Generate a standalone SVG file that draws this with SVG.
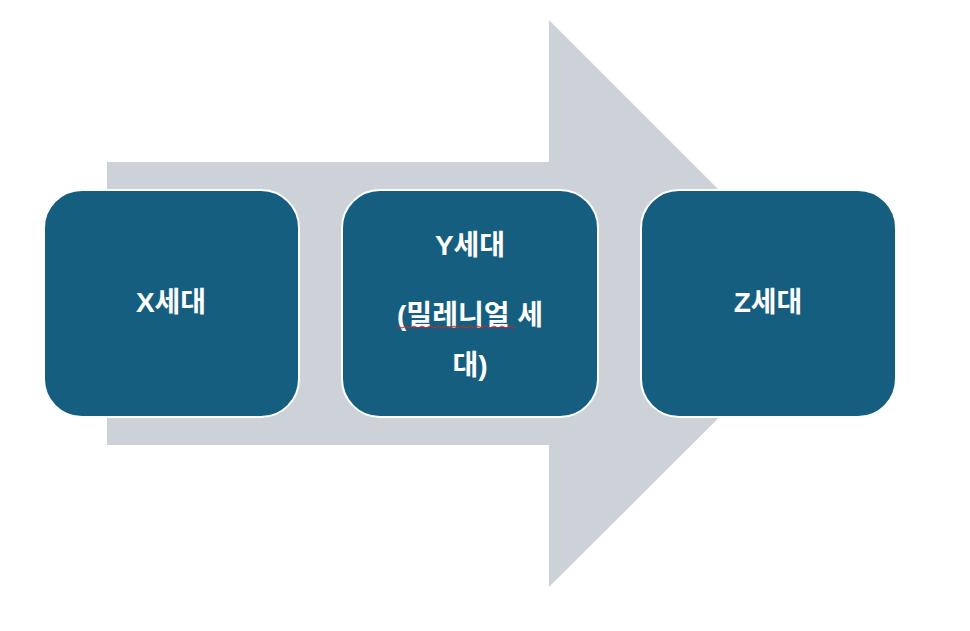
<svg xmlns="http://www.w3.org/2000/svg" width="970" height="631" viewBox="0 0 970 631">
<style>
.box{fill:#165E80;stroke:#fff;stroke-width:2}
.t{font-family:"Liberation Sans","Noto Sans CJK KR",sans-serif;font-weight:bold;font-size:28px;fill:#fff;text-anchor:middle}
</style>
<rect width="970" height="631" fill="#fff"/>
<g id="connectors">
<polygon points="107,162 549,162 549,20 833,304 549,587 549,445 107,445" fill="#CDD2D8"/>
</g>
<g id="x"><rect class="box" x="44" y="190" width="255" height="227" rx="38"/><text class="t" x="171" y="312">X세대</text></g>
<g id="y"><rect class="box" x="342" y="190" width="256" height="227" rx="38"/>
<text class="t" x="470" y="255">Y세대</text>
<text class="t" x="470" y="325">(밀레니얼 세</text>
<text class="t" x="470" y="375">대)</text>
<path d="M396,327 q2,-2 4,0 t4,0 t4,0 t4,0 t4,0 t4,0 t4,0 t4,0 t4,0 t4,0 t4,0 t4,0 t4,0 t4,0 t4,0 t4,0 t4,0 t4,0 t4,0 t4,0 t4,0 t4,0 t4,0 t4,0 t4,0 t4,0 t4,0 t4,0 t4,0 t4,0" fill="none" stroke="#e02020" stroke-width="1"/>
</g>
<g id="z"><rect class="box" x="641" y="190" width="255" height="227" rx="38"/><text class="t" x="768" y="312">Z세대</text></g>
</svg>
